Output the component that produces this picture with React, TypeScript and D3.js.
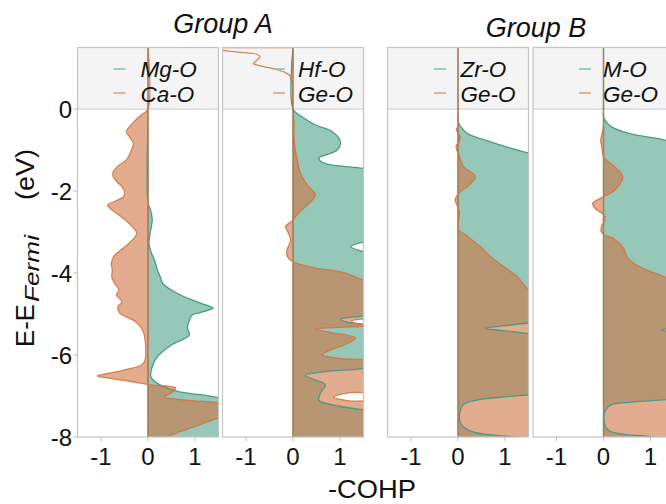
import React from 'react';
import * as d3 from 'd3';

type P = [number, number]; // [energy (eV), -COHP]

const energyTicks = [0, -2, -4, -6, -8];
const cohpTicks = [-1, 0, 1];
const groupTitles = ['Group A', 'Group B'];
const tealLabels = ['Mg-O', 'Hf-O', 'Zr-O', 'M-O'];
const orangeLabels = ['Ca-O', 'Ge-O', 'Ge-O', 'Ge-O'];

// Panel 1
const mgO: P[] = [[1.5,0],[0,0],[-2.3,0],[-2.45,0.05],[-2.7,0.09],[-3.0,0.05],[-3.28,0.02],[-3.5,0.07],[-3.76,0.16],[-3.93,0.2],[-4.09,0.26],[-4.25,0.31],[-4.41,0.49],[-4.58,0.77],[-4.74,1.13],[-4.82,1.33],[-4.86,1.39],[-4.9,1.3],[-4.97,1.1],[-5.02,0.95],[-5.15,0.88],[-5.35,0.84],[-5.51,0.88],[-5.76,0.49],[-6.04,0.2],[-6.28,0.09],[-6.53,0.06],[-6.69,0.2],[-6.89,0.63],[-6.98,1.2],[-7.06,1.6],[-7.2,2.0],[-8.1,2.0]];
const caO: P[] = [[1.5,0],[0,0],[-0.15,-0.15],[-0.35,-0.33],[-0.55,-0.46],[-0.7,-0.38],[-0.84,-0.31],[-1.05,-0.37],[-1.24,-0.46],[-1.4,-0.65],[-1.53,-0.74],[-1.65,-0.74],[-1.75,-0.68],[-1.93,-0.53],[-2.05,-0.5],[-2.14,-0.52],[-2.25,-0.7],[-2.34,-0.86],[-2.46,-0.77],[-2.71,-0.48],[-3.03,-0.24],[-3.28,-0.41],[-3.6,-0.73],[-3.76,-0.78],[-3.93,-0.76],[-4.1,-0.77],[-4.25,-0.71],[-4.41,-0.62],[-4.54,-0.67],[-4.7,-0.55],[-4.82,-0.64],[-4.98,-0.6],[-5.19,-0.26],[-5.43,-0.1],[-5.8,-0.05],[-6.15,-0.07],[-6.25,-0.15],[-6.35,-0.45],[-6.45,-0.85],[-6.51,-1.08],[-6.57,-0.8],[-6.64,-0.4],[-6.72,0],[-6.81,0.59],[-6.92,0.5],[-7.02,0.36],[-7.1,0.8],[-7.18,1.6],[-7.3,2.0],[-7.45,2.0],[-7.54,1.5],[-7.75,0.98],[-7.99,0.41],[-8.1,0.2]];

// Panel 2
const hfO: P[] = [[1.5,0],[0,0],[-0.19,0.19],[-0.39,0.48],[-0.55,0.83],[-0.8,1.01],[-1.0,0.94],[-1.12,0.7],[-1.2,0.55],[-1.3,0.62],[-1.37,0.85],[-1.45,1.5],[-1.55,2.0],[-3.1,2.0],[-3.24,1.5],[-3.36,1.23],[-3.48,1.5],[-3.6,2.0],[-4.95,2.0],[-5.05,1.45],[-5.13,1.01],[-5.2,1.15],[-5.26,1.6],[-5.32,2.0],[-6.25,2.0],[-6.33,1.5],[-6.42,0.6],[-6.49,0.26],[-6.6,0.45],[-6.73,0.69],[-6.9,0.6],[-7.1,0.55],[-7.25,1.0],[-7.34,1.5],[-7.42,2.0],[-8.1,2.0]];
const geOA: P[] = [[1.5,-1.8],[1.43,-1.5],[1.38,-1.1],[1.33,-0.76],[1.27,-0.7],[1.18,-0.78],[1.11,-0.84],[1.04,-0.65],[0.99,-0.45],[0.9,-0.18],[0.8,-0.06],[0.6,-0.02],[0,0],[-0.3,0.02],[-0.65,0.02],[-1.0,0.05],[-1.3,0.1],[-1.57,0.16],[-1.85,0.3],[-2.1,0.48],[-2.3,0.34],[-2.5,0.15],[-2.63,0.05],[-2.71,0],[-2.87,-0.16],[-2.95,-0.13],[-3.2,-0.05],[-3.44,-0.13],[-3.6,-0.12],[-3.72,0],[-3.88,0.48],[-3.98,1.05],[-4.17,1.5],[-4.3,2.0],[-5.0,2.0],[-5.1,1.6],[-5.17,1.25],[-5.22,1.3],[-5.28,1.6],[-5.33,0.9],[-5.37,0.48],[-5.45,0.8],[-5.59,1.33],[-5.75,1.1],[-5.9,0.75],[-6.0,0.62],[-6.08,1.0],[-6.12,1.6],[-6.2,2.0],[-6.85,2.0],[-6.92,1.2],[-7.03,0.87],[-7.12,1.2],[-7.2,2.0],[-8.1,2.0]];

// Panel 3
const zrO: P[] = [[1.5,0],[0,0],[-0.3,0],[-0.4,0.04],[-0.59,0.19],[-0.8,0.69],[-0.95,1.1],[-1.08,1.51],[-1.2,2.0],[-5.15,2.0],[-5.22,1.5],[-5.29,0.95],[-5.35,0.58],[-5.41,1.0],[-5.48,1.5],[-5.55,2.0],[-6.9,2.0],[-6.96,1.6],[-7.02,1.0],[-7.1,0.4],[-7.2,0.12],[-7.35,0.05],[-7.65,0.05],[-7.82,0.2],[-7.92,0.5],[-7.98,1.0],[-8.05,1.6],[-8.1,2.0]];
const geOB: P[] = [[1.5,0],[0,0],[-0.4,0],[-0.52,-0.03],[-0.68,0.05],[-0.8,0.02],[-0.92,-0.04],[-1.15,0.03],[-1.41,0.12],[-1.65,0.37],[-1.9,0.19],[-2.06,0.01],[-2.22,-0.06],[-2.4,0],[-2.54,0.03],[-2.75,0.01],[-2.95,0.02],[-3.07,0.16],[-3.36,0.48],[-3.6,0.69],[-3.85,0.98],[-4.09,1.26],[-4.29,1.41],[-4.41,1.51],[-4.5,1.8],[-8.1,1.8]];

// Panel 4
const mO: P[] = [[1.5,0],[0,0],[-0.2,0],[-0.3,0.05],[-0.43,0.16],[-0.59,0.52],[-0.76,1.31],[-0.85,1.6],[-0.95,2.0],[-5.25,2.0],[-5.32,1.6],[-5.39,1.22],[-5.46,1.6],[-5.53,2.0],[-7.0,2.0],[-7.08,1.4],[-7.15,0.6],[-7.22,0.16],[-7.38,0.03],[-7.72,0.03],[-7.85,0.12],[-7.93,0.4],[-7.98,0.9],[-8.05,1.5],[-8.1,2.0]];
const geOC: P[] = [[1.5,0],[0,0],[-0.4,0],[-0.6,-0.03],[-0.76,-0.06],[-0.95,-0.03],[-1.16,0],[-1.41,0.24],[-1.65,0.41],[-1.98,0.24],[-2.14,0],[-2.3,-0.23],[-2.42,-0.18],[-2.5,-0.09],[-2.6,0.02],[-2.72,0.02],[-2.85,-0.04],[-2.99,-0.05],[-3.08,0.03],[-3.15,0.2],[-3.4,0.43],[-3.6,0.5],[-3.76,0.64],[-3.93,0.93],[-4.09,1.3],[-4.2,1.6],[-4.3,2.0],[-8.1,2.0]];

const tealSeries = [mgO, hfO, zrO, mO];
const orangeSeries = [caO, geOA, geOB, geOC];

// layout
const W = 666, H = 504;
const panelLefts = [77.5, 222.5, 387.5, 533];
const panelW = 141;
const TOP = 47.5, BOTTOM = 437;
const legendTextX = [63, 75.5, 73, 70];
const legendHandleX = [36, 50.5, 46.5, 46];
const FONT = '"Liberation Sans", Arial, sans-serif';

const TEAL_FILL = 'rgb(80,163,138)';
const ORANGE_FILL = 'rgb(208,117,68)';
const TEAL_LINE = '#4a9b83';
const ORANGE_LINE = '#d4713d';

const y = d3.scaleLinear().domain([-8, 1.5]).range([BOTTOM, TOP]);

function Panel({ i }: { i: number }) {
  const left = panelLefts[i];
  const x = d3.scaleLinear().domain([-1.5, 1.5]).range([left, left + panelW]);
  const area = d3.area<P>()
    .y(d => y(d[0]))
    .x0(x(0))
    .x1(d => x(d[1]))
    .curve(d3.curveCatmullRom.alpha(0.5));
  const tealPath = area(tealSeries[i]) || '';
  const orangePath = area(orangeSeries[i]) || '';
  const clipId = `clip-${i}`;
  return (
    <g>
      <defs>
        <clipPath id={clipId}>
          <rect x={left} y={TOP} width={panelW} height={BOTTOM - TOP} />
        </clipPath>
      </defs>
      <g clipPath={`url(#${clipId})`}>
        <rect x={left} y={TOP} width={panelW} height={BOTTOM - TOP} fill="#fff" />
        <path d={tealPath} fill={TEAL_FILL} fillOpacity={0.6} />
        <path d={orangePath} fill={ORANGE_FILL} fillOpacity={0.6} />
        <rect x={left} y={TOP} width={panelW} height={y(0) - TOP} fill="#f4f4f4" />
        <line x1={left} x2={left + panelW} y1={y(0)} y2={y(0)} stroke="#c8c8c8" strokeWidth={1.2} />
        <path d={tealPath} fill="none" stroke={TEAL_LINE} strokeWidth={1.3} />
        <path d={orangePath} fill="none" stroke={ORANGE_LINE} strokeWidth={1.3} strokeOpacity={0.85} />
      </g>
      {/* legend */}
      <line x1={left + legendHandleX[i]} x2={left + legendHandleX[i] + 12} y1={69} y2={69} stroke="#86c3b1" strokeWidth={1.6} />
      <line x1={left + legendHandleX[i]} x2={left + legendHandleX[i] + 12} y1={93} y2={93} stroke="#e6a07a" strokeWidth={1.6} />
      <text x={left + legendTextX[i]} y={76.5} fontSize={22.5} fontStyle="italic" fontFamily={FONT} fill="#111">{tealLabels[i]}</text>
      <text x={left + legendTextX[i]} y={101.5} fontSize={22.5} fontStyle="italic" fontFamily={FONT} fill="#111">{orangeLabels[i]}</text>
      <rect x={left} y={TOP} width={panelW} height={BOTTOM - TOP} fill="none" stroke="#c4c4c4" strokeWidth={1.2} />
      {/* x ticks */}
      {cohpTicks.map(t => (
        <g key={t}>
          <line x1={x(t)} x2={x(t)} y1={BOTTOM} y2={BOTTOM + 4} stroke="#bdbdbd" strokeWidth={1} />
          <text x={x(t)} y={465} textAnchor="middle" fontSize={24} fontFamily={FONT} fill="#111">{t < 0 ? `-${Math.abs(t)}` : `${t}`}</text>
        </g>
      ))}
    </g>
  );
}

export default function App() {
  const p0 = panelLefts[0];
  return (
    <svg width={W} height={H} style={{ position: 'absolute', left: 0, top: 0, background: '#fff' }}>
      <rect x={0} y={0} width={W} height={H} fill="#fff" />
      {[0, 1, 2, 3].map(i => <Panel key={i} i={i} />)}
      {energyTicks.map(t => (
        <g key={t}>
          <line x1={p0 - 4} x2={p0} y1={y(t)} y2={y(t)} stroke="#bdbdbd" strokeWidth={1} />
          <text x={72} y={y(t)} dy="0.36em" textAnchor="end" fontSize={24} fontFamily={FONT} fill="#111">{t < 0 ? `-${Math.abs(t)}` : `${t}`}</text>
        </g>
      ))}
      <text x={223} y={33} textAnchor="middle" fontSize={27} fontStyle="italic" fontFamily={FONT} fill="#111">{groupTitles[0]}</text>
      <text x={536} y={36.5} textAnchor="middle" fontSize={27} fontStyle="italic" fontFamily={FONT} fill="#111">{groupTitles[1]}</text>
      <text x={372} y={498} textAnchor="middle" fontSize={25} fontFamily={FONT} fill="#111" textLength={88} lengthAdjust="spacingAndGlyphs">-COHP</text>
      <text transform="translate(34,347) rotate(-90)" fontSize={26} fontFamily={FONT} fill="#111" textLength={43} lengthAdjust="spacingAndGlyphs">E-E</text>
      <text transform="translate(39,302) rotate(-90)" fontSize={20} fontStyle="italic" fontFamily={FONT} fill="#111" textLength={67} lengthAdjust="spacingAndGlyphs">Fermi</text>
      <text transform="translate(34,200) rotate(-90)" fontSize={26} fontFamily={FONT} fill="#111" textLength={51} lengthAdjust="spacingAndGlyphs">(eV)</text>
    </svg>
  );
}
